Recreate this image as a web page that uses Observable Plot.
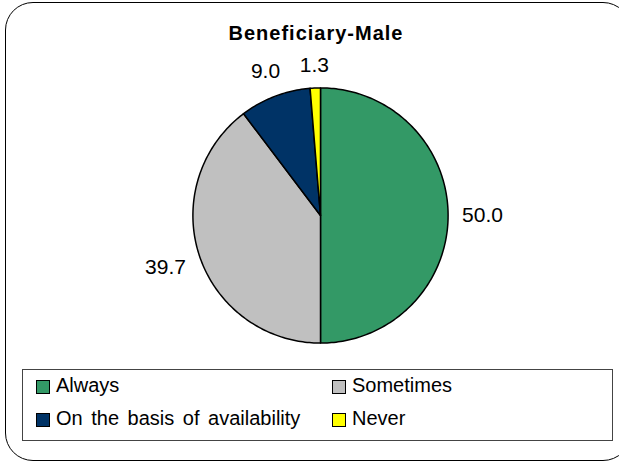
<!DOCTYPE html>
<html>
<head>
<meta charset="utf-8">
<script src="https://cdn.jsdelivr.net/npm/d3@7"></script>
<script src="https://cdn.jsdelivr.net/npm/@observablehq/plot@0.6"></script>
<style>
  html, body { margin: 0; padding: 0; background: #fff; }
  #wrap { position: relative; width: 619px; height: 462px; overflow: hidden; font-family: "Liberation Sans", Arial, sans-serif; }
  #frame { position: absolute; left: 5px; top: 2px; width: 626px; height: 459px; border: 1.5px solid #000; border-radius: 28px; box-sizing: border-box; }
  #chart { position: absolute; left: 0; top: 0; }
  #title { position: absolute; left: 0; width: 632px; top: 22px; text-align: center; font-weight: bold; font-size: 20px; letter-spacing: 1px; color: #000; }
  #legend { position: absolute; left: 22px; top: 369px; width: 591px; height: 72px; border: 1px solid #444; box-sizing: border-box; }
  .item { position: absolute; height: 20px; font-size: 20px; line-height: 20px; color: #000; white-space: nowrap; word-spacing: 3px; }
  .sw { position: absolute; width: 14px; height: 14px; border: 1px solid #000; box-sizing: border-box; }
</style>
</head>
<body>
<div id="wrap">
  <div id="frame"></div>
  <div id="chart"></div>
  <div id="title"></div>
  <div id="legend"></div>
</div>
<script>
const chartTitle = "Beneficiary-Male";
const categories = ["Always", "Sometimes", "On the basis of availability", "Never"];
const values = [50.0, 39.7, 9.0, 1.3];
const valueLabels = ["50.0", "39.7", "9.0", "1.3"];
const colors = ["#339966", "#C0C0C0", "#003366", "#FFFF00"];

// geometry of the pie in the page
const cx = 320, cy = 215, R = 127.6;
const labelFont = 21, gap = 14;

const total = d3.sum(values);
// slice outlines: start at 12 o'clock, clockwise
const slicePts = [];
const labelPts = [];
let acc = 0;
categories.forEach((c, i) => {
  const a0 = acc / total * 2 * Math.PI;
  acc += values[i];
  const a1 = acc / total * 2 * Math.PI;
  const n = Math.max(2, Math.ceil((a1 - a0) / (Math.PI / 180)));
  slicePts.push({cat: c, x: 0, y: 0});
  for (let k = 0; k <= n; k++) {
    const a = a0 + (a1 - a0) * k / n;
    slicePts.push({cat: c, x: Math.sin(a), y: Math.cos(a)});
  }
  slicePts.push({cat: c, x: 0, y: 0});
  const am = (a0 + a1) / 2;
  const ux = Math.sin(am), uy = Math.cos(am);
  const txt = valueLabels[i];
  const w = labelFont * (0.556 * txt.replace(".", "").length + 0.278);
  const h = 16;
  const dist = (R + gap + Math.abs(ux) * w / 2 + Math.abs(uy) * h / 2) / R;
  labelPts.push({text: txt, x: ux * dist, y: uy * dist});
});

const plot = Plot.plot({
  width: 619,
  height: 462,
  margin: 0,
  style: {background: "transparent", overflow: "visible"},
  x: {domain: [-1, 1], range: [cx - R, cx + R], axis: null},
  y: {domain: [-1, 1], range: [cy + R, cy - R], axis: null},
  color: {domain: categories, range: colors},
  marks: [
    Plot.line(slicePts, {x: "x", y: "y", z: "cat", fill: "cat", stroke: "#000", strokeWidth: 1.5, strokeLinejoin: "round", curve: "linear"}),
    Plot.text(labelPts, {x: "x", y: "y", text: "text", fontSize: labelFont, fontFamily: "Liberation Sans, Arial, sans-serif", fill: "#000", textAnchor: "middle", lineAnchor: "middle"})
  ]
});
document.getElementById("chart").appendChild(plot);

document.getElementById("title").textContent = chartTitle;

// legend: two columns, two rows
const legend = document.getElementById("legend");
const colX = [13, 309];
const rowY = [10, 43];
categories.forEach((c, i) => {
  const col = i % 2, row = Math.floor(i / 2);
  const sw = document.createElement("div");
  sw.className = "sw";
  sw.style.left = colX[col] + "px";
  sw.style.top = rowY[row] + "px";
  sw.style.background = colors[i];
  legend.appendChild(sw);
  const t = document.createElement("div");
  t.className = "item";
  t.style.left = (colX[col] + 20) + "px";
  t.style.top = (rowY[row] - 5) + "px";
  t.textContent = c;
  legend.appendChild(t);
});
</script>
</body>
</html>
